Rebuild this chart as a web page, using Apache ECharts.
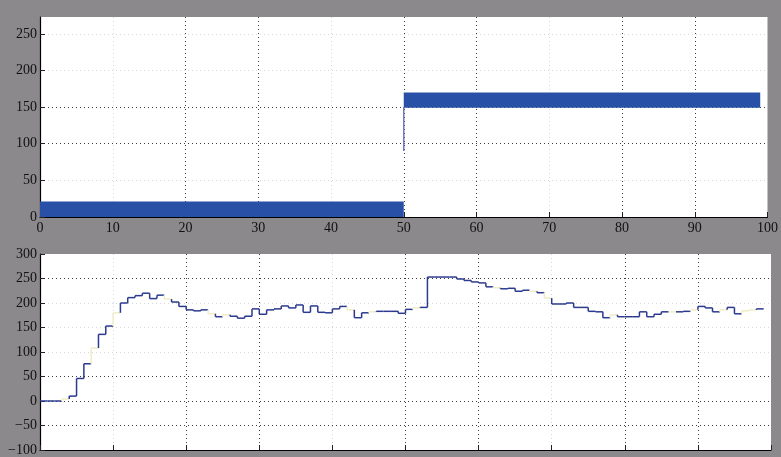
<!DOCTYPE html>
<html>
<head>
<meta charset="utf-8">
<script src="https://cdn.jsdelivr.net/npm/echarts@6/dist/echarts.min.js"></script>
<style>
  html, body { margin: 0; padding: 0; background: #8b898b; }
  #chart { width: 781px; height: 457px; }
</style>
</head>
<body>
<div id="chart"></div>
<script>
// Upper trace: a fast switching signal drawn as two solid bands
const bandStart = [0, 50];
const bandEnd   = [50, 99];
const bandLow   = [0, 149];
const bandHigh  = [21, 170];
// transient edge at the switch instant
const edgeTime = 50;
const edgeFrom = 90;
const edgeTo   = 150;

// Lower trace: sampled (zero-order hold) response, one sample per time unit
const sampleValues = [
  0, 0, 0, 4, 10, 46, 76, 108, 136, 153,
  180, 200, 211, 215, 220, 209, 216, 208, 202, 193,
  186, 184, 186, 178, 172, 176, 173, 169, 173, 188,
  177, 186, 188, 194, 190, 196, 181, 194, 181, 180,
  188, 193, 186, 170, 180, 182, 183, 183, 183, 179,
  187, 190, 191, 253, 253, 253, 253, 249, 246, 243,
  241, 233, 231, 229, 230, 224, 226, 224, 221, 210,
  198, 198, 200, 191, 191, 183, 182, 170, 176, 172,
  172, 172, 182, 172, 177, 182, 182, 182, 183, 186,
  193, 190, 182, 186, 191, 178, 184, 186, 188
];
// samples whose hold segment is barely visible on the scope trace
const faintSamples = [3, 7, 10, 17, 23, 25, 42, 45, 51, 62, 67, 69, 78, 86, 89, 93, 96, 97];

// Axis ticks
const xTicks = [0, 100, 10];          // min, max, step
const yTopTicks = [0, 273, 50];
const yBottomTicks = [-100, 300, 50];

const DARK = '#3c3c3c';
const FAINT = '#d6d6d6';
const NONE = 'rgba(0,0,0,0)';
// grid line shades, one per tick from min to max
const xGridShades = [NONE, FAINT, DARK, DARK, FAINT, DARK, DARK, FAINT, DARK, DARK, NONE];
const yTopGridShades = [NONE, FAINT, DARK, DARK, FAINT, FAINT, NONE];
const yBottomGridShades = [NONE, DARK, DARK, DARK, FAINT, FAINT, FAINT, DARK, NONE];

const TRACE = '#2b3a8e';
const TRACE_FAINT = '#f1ecc8';

const FONT = 'Liberation Serif';
const labelStyle = { color: '#111', fontFamily: FONT, fontSize: 14 };

function gridLine(colors) {
  return { show: true, lineStyle: { color: colors, width: 1, type: [1, 3] } };
}
function minus(v) { return v < 0 ? '\u2212' + Math.abs(v) : String(v); }

const bandData = bandStart.map((s, i) => [s, bandEnd[i], bandLow[i], bandHigh[i]]);
// each item: [sample time, held value, previous value, faint flag]
const holdData = sampleValues.map((v, i) => [
  i, v, i > 0 ? sampleValues[i - 1] : v, faintSamples.indexOf(i) >= 0 ? 1 : 0
]);

function renderHold(params, api) {
  const t = api.value(0), v = api.value(1), prev = api.value(2), faint = api.value(3);
  const a = api.coord([t, v]);
  const b = api.coord([t + 1, v]);
  const p = api.coord([t, prev]);
  const color = faint ? TRACE_FAINT : TRACE;
  return {
    type: 'group',
    children: [
      { type: 'line', shape: { x1: p[0], y1: p[1], x2: a[0], y2: a[1] },
        style: { stroke: color, lineWidth: 1.5 } },
      { type: 'line', shape: { x1: a[0], y1: a[1], x2: b[0], y2: b[1] },
        style: { stroke: color, lineWidth: 1.5 } }
    ]
  };
}

const chart = echarts.init(document.getElementById('chart'), null, { renderer: 'canvas' });
chart.setOption({
  backgroundColor: '#8b898b',
  animation: false,
  grid: [
    { left: 40, right: 10, top: 17, height: 200, backgroundColor: '#ffffff', show: true, borderWidth: 0 },
    { left: 40, right: 10, top: 254, height: 198, backgroundColor: '#ffffff', show: true, borderWidth: 0 }
  ],
  xAxis: [
    {
      type: 'value', gridIndex: 0, min: xTicks[0], max: xTicks[1], interval: xTicks[2],
      axisLine: { show: true, onZero: false, lineStyle: { color: '#000', width: 1.2 } },
      axisTick: { show: true, inside: true, length: 5, lineStyle: { color: '#222' } },
      axisLabel: Object.assign({ margin: 4 }, labelStyle),
      splitLine: gridLine(xGridShades)
    },
    {
      type: 'value', gridIndex: 1, min: xTicks[0], max: xTicks[1], interval: xTicks[2],
      axisLine: { show: true, onZero: false, lineStyle: { color: '#000', width: 1.2 } },
      axisTick: { show: true, inside: true, length: 5, lineStyle: { color: '#222' } },
      axisLabel: { show: false },
      splitLine: gridLine(xGridShades)
    }
  ],
  yAxis: [
    {
      type: 'value', gridIndex: 0, min: yTopTicks[0], max: yTopTicks[1], interval: yTopTicks[2],
      axisLine: { show: true, onZero: false, lineStyle: { color: '#000', width: 1.2 } },
      axisTick: { show: true, inside: true, length: 5, lineStyle: { color: '#222' } },
      axisLabel: Object.assign({ margin: 3, showMaxLabel: false }, labelStyle),
      splitLine: gridLine(yTopGridShades)
    },
    {
      type: 'value', gridIndex: 1, min: yBottomTicks[0], max: yBottomTicks[1], interval: yBottomTicks[2],
      axisLine: { show: true, onZero: false, lineStyle: { color: '#000', width: 1.2 } },
      axisTick: { show: true, inside: true, length: 5, lineStyle: { color: '#222' } },
      axisLabel: Object.assign({ margin: 3, formatter: minus }, labelStyle),
      splitLine: gridLine(yBottomGridShades)
    }
  ],
  series: [
    {
      type: 'custom', xAxisIndex: 0, yAxisIndex: 0,
      data: bandData,
      encode: { x: [0, 1], y: [2, 3] },
      renderItem: function (params, api) {
        const p0 = api.coord([api.value(0), api.value(3)]);
        const p1 = api.coord([api.value(1), api.value(2)]);
        return {
          type: 'rect',
          shape: { x: p0[0], y: p0[1], width: p1[0] - p0[0], height: p1[1] - p0[1] },
          style: { fill: '#2750a6' }
        };
      }
    },
    {
      type: 'line', xAxisIndex: 0, yAxisIndex: 0,
      data: [[edgeTime, edgeFrom], [edgeTime, edgeTo]],
      symbol: 'none',
      lineStyle: { color: '#7479bd', width: 1.5 }
    },
    {
      type: 'custom', xAxisIndex: 1, yAxisIndex: 1,
      data: holdData,
      encode: { x: 0, y: [1, 2] },
      renderItem: renderHold
    }
  ]
});
</script>
</body>
</html>
